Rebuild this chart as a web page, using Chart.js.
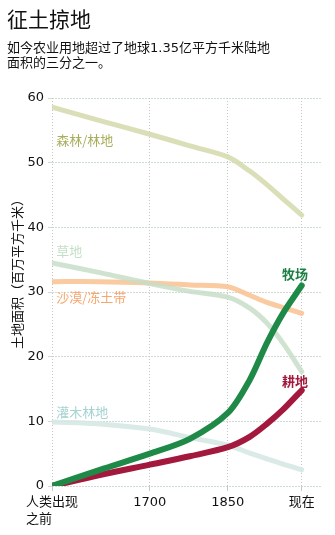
<!DOCTYPE html>
<html>
<head>
<meta charset="utf-8">
<script src="https://cdn.jsdelivr.net/npm/chart.js@4"></script>
<style>
  body { margin: 0; background: #fff; font-family: "DejaVu Sans", "Noto Sans CJK SC", sans-serif; }
  #wrap { position: relative; width: 335px; height: 535px; }
  #chart { position: absolute; left: 0; top: 0; }
  .title { position: absolute; left: 7px; top: 8px; font-size: 21px; line-height: 21px; color: #111;
    font-family: "Noto Sans CJK SC", sans-serif; }
  .sub { position: absolute; left: 7px; top: 40px; font-size: 13px; line-height: 15px; color: #111; }
</style>
</head>
<body>
<div id="wrap">
  <canvas id="chart" width="335" height="535"></canvas>
  <div class="title">征土掠地</div>
  <div class="sub">如今农业用地超过了地球1.35亿平方千米陆地<br>面积的三分之一。</div>
</div>
<script>
// x positions are "years" on a stretched axis; 1512 stands for 人类出现之前, 1992 for 现在
const tickYears = [1512, 1700, 1850, 1992];
const tickLabels = [['人类出现', '之前\u3000\u3000'], '1700', '1850', '现在'];
const sampleYears = [1512, 1604, 1700, 1777, 1850, 1892, 1925, 1956, 1992];

const pasture = [0, 2.5, 5.0, 7.3, 11.3, 16.4, 22.1, 26.7, 31.0];
const cropland = [0, 1.7, 3.3, 4.6, 6.0, 7.6, 9.6, 11.8, 14.8];
const forest = [58.6, 56.5, 54.4, 52.6, 50.9, 48.7, 46.6, 44.4, 41.9];
const grassland = [34.5, 33.0, 31.3, 30.1, 29.2, 27.5, 25.2, 22.1, 17.7];
const desert = [31.6, 31.6, 31.4, 31.1, 30.8, 29.5, 28.4, 27.6, 26.7];
const shrubland = [9.9, 9.6, 8.8, 7.5, 6.3, 5.1, 4.2, 3.4, 2.5];

const yTicks = [0, 10, 20, 30, 40, 50, 60];

function pts(values) {
  return values.map((v, i) => ({ x: sampleYears[i], y: v }));
}

function line(label, values, color, width) {
  return {
    label: label,
    data: pts(values),
    borderColor: color,
    borderWidth: width,
    pointRadius: 0,
    fill: false,
    tension: 0.3,
    borderCapStyle: 'round',
    borderJoinStyle: 'round'
  };
}

// text labels next to the lines, anchored in data units
const seriesLabels = [
  { text: '森林/林地', x: 1520, y: 53.5, color: '#a8ae5c', align: 'left', bold: false },
  { text: '草地', x: 1520, y: 36.3, color: '#c3dfc6', align: 'left', bold: false },
  { text: '沙漠/冻土带', x: 1520, y: 29.2, color: '#f5a76f', align: 'left', bold: false },
  { text: '灌木林地', x: 1520, y: 11.4, color: '#a5d3d2', align: 'left', bold: false },
  { text: '牧场', x: 1979, y: 32.8, color: '#1d7f44', align: 'center', bold: true },
  { text: '耕地', x: 1979, y: 16.2, color: '#a3193d', align: 'center', bold: true }
];

const labelPlugin = {
  id: 'labels',
  afterDatasetsDraw(chart) {
    const ctx = chart.ctx;
    const xs = chart.scales.x, ys = chart.scales.y;
    ctx.save();
    ctx.textBaseline = 'middle';
    seriesLabels.forEach((l) => {
      ctx.font = (l.bold ? 'bold ' : '') + '13px "Noto Sans CJK SC", sans-serif';
      ctx.fillStyle = l.color;
      ctx.textAlign = l.align;
      ctx.fillText(l.text, xs.getPixelForValue(l.x), ys.getPixelForValue(l.y));
    });
    // y axis title
    ctx.translate(17, 271);
    ctx.rotate(-Math.PI / 2);
    ctx.textAlign = 'center';
    ctx.fillStyle = '#111';
    ctx.font = '13px "Noto Sans CJK SC", sans-serif';
    ctx.fillText('土地面积（百万平方千米）', 0, 0);
    ctx.restore();
  }
};

new Chart(document.getElementById('chart').getContext('2d'), {
  type: 'line',
  data: {
    datasets: [
      line('牧场', pasture, '#1f8a47', 6),
      line('耕地', cropland, '#a3193d', 6),
      line('森林/林地', forest, 'rgba(214,219,175,0.9)', 5),
      line('草地', grassland, 'rgba(200,222,200,0.85)', 5),
      line('沙漠/冻土带', desert, 'rgba(249,196,150,0.9)', 5),
      line('灌木林地', shrubland, 'rgba(214,232,228,0.9)', 5)
    ]
  },
  options: {
    responsive: false,
    animation: false,
    layout: { padding: { top: 98, right: 13, left: 0, bottom: 0 } },
    plugins: { legend: { display: false }, tooltip: { enabled: false } },
    scales: {
      x: {
        type: 'linear',
        min: 1512,
        max: 2031,
        afterBuildTicks: (scale) => { scale.ticks = tickYears.map((v) => ({ value: v })); },
        afterFit: (scale) => { scale.height = 49; },
        ticks: {
          autoSkip: false,
          maxRotation: 0,
          padding: 3,
          color: '#111',
          font: { size: 13, family: '"DejaVu Sans", "Noto Sans CJK SC", sans-serif', lineHeight: 1.3 },
          callback: (v, i) => tickLabels[i]
        },
        grid: { color: 'rgba(150,150,150,0.55)', tickLength: 5 },
        border: { display: false, dash: [1, 2] }
      },
      y: {
        min: 0,
        max: 60,
        afterBuildTicks: (scale) => { scale.ticks = yTicks.map((v) => ({ value: v })); },
        afterFit: (scale) => { scale.width = 52; },
        ticks: {
          padding: 4,
          color: '#111',
          font: { size: 13, family: '"DejaVu Sans", sans-serif' }
        },
        grid: { color: 'rgba(185,205,195,0.7)', tickLength: 4 },
        border: { display: false, dash: [2, 1] }
      }
    }
  },
  plugins: [labelPlugin]
});
</script>
</body>
</html>
